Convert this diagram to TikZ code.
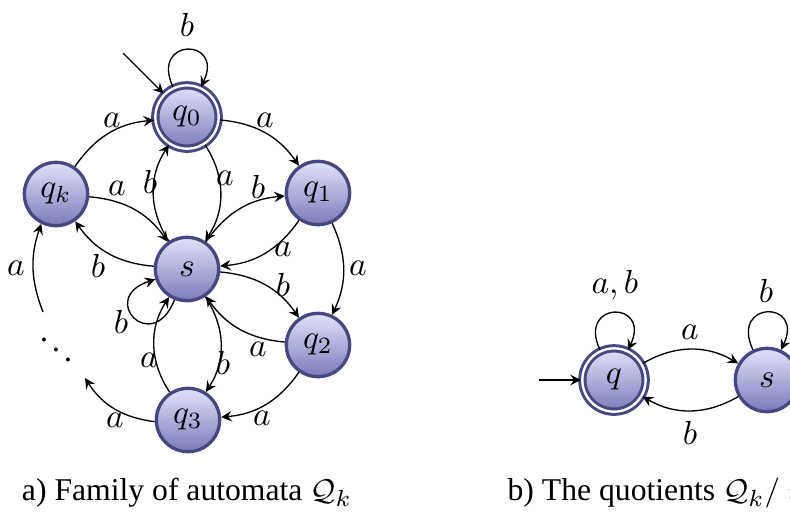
\documentclass[tikz,border=0pt]{standalone}
\usepackage{fontspec}
\setmainfont{Liberation Serif}
\usepackage{amssymb}
\usepackage{xcolor}
\usetikzlibrary{arrows}

\definecolor{stdraw}{RGB}{72,72,128}
\definecolor{sttop}{RGB}{226,226,250}
\definecolor{stbot}{RGB}{122,122,188}

\tikzset{
  st/.style={circle, draw=stdraw, line width=1pt, top color=sttop, bottom color=stbot, minimum size=19pt, inner sep=0pt},
  acc/.style={st, double=white, double distance=0.7pt, line width=0.9pt},
  tr/.style={->, >=stealth, line width=0.4pt},
  selfloop/.style={tr, loop, min distance=10pt, in=65, out=115, looseness=5},
  capt/.style={font=\fontsize{9.5}{11}\selectfont}
}

\begin{document}
\begin{tikzpicture}[x=0.3pt,y=0.3pt]
\useasboundingbox (0,-514) rectangle (790,0);

% states of Q_k
\node [acc] (q0) at (187,-117) {$q_0$};
\node [st] (q1) at (318,-193) {$q_1$};
\node [st] (q2) at (318,-345) {$q_2$};
\node [st] (q3) at (188,-420) {$q_3$};
\node [st] (qk) at (56,-194) {$q_k$};
\node [st] (s) at (187,-269) {$s$};
\node (dots) at (56,-340) {$\ddots$};
\coordinate (i0) at (123,-53);
\coordinate (d1) at (85,-378);
\coordinate (d2) at (43,-312);

% outer cycle
\draw [tr] (i0) -- (q0);
\draw [selfloop] (q0) to (q0);
\draw [tr] (q0) to [bend left=25] (q1);
\draw [tr] (q1) to [bend left=25] (q2);
\draw [tr] (q2) to [bend left=25] (q3);
\draw [tr] (q3) to [bend left=25] (d1);
\draw [tr] (d2) to [bend left=20] (qk);
\draw [tr] (qk) to [bend left=25] (q0);

% edges through s
\draw [tr] (s) to [bend left=33] (q0);
\draw [tr] (q0) to [bend left=33] (s);
\draw [tr] (s) to [bend left=25] (q1);
\draw [tr] (q1) to [bend left=25] (s);
\draw [tr] (s) to [bend left=25] (q2);
\draw [tr] (q2) to [bend left=25] (s);
\draw [tr] (s) to [bend left=33] (q3);
\draw [tr] (q3) to [bend left=33] (s);
\draw [tr] (qk) to [bend left=25] (s);
\draw [tr] (s) to [bend left=25] (qk);
\draw [tr] (s) to [out=248, in=198, looseness=5.5] (s);

% Text Nodes
\node (l0) at (187,-25) {$b$};
\node (l01) at (265,-120) {$a$};
\node (l12) at (358,-268) {$a$};
\node (l23) at (262,-418) {$a$};
\node (l3d) at (115,-420) {$a$};
\node (ldk) at (16,-268) {$a$};
\node (lk0) at (112,-120) {$a$};
\node (ls0) at (150,-182) {$b$};
\node (l0s) at (225,-178) {$a$};
\node (ls1) at (258,-187) {$b$};
\node (l1s) at (283,-249) {$a$};
\node (ls2) at (283,-285) {$b$};
\node (l2s) at (258,-349) {$a$};
\node (ls3) at (223,-363) {$b$};
\node (l3s) at (149,-360) {$a$};
\node (lks) at (117,-188) {$a$};
\node (lsk) at (98,-266) {$b$};
\node (lss) at (121,-322) {$b$};

% quotient automaton
\node [acc] (q) at (614,-380) {$q$};
\node [st] (sq) at (767,-380) {$s$};
\coordinate (iq) at (539,-380);
\draw [tr] (iq) -- (q);
\draw [selfloop] (q) to (q);
\draw [selfloop] (sq) to (sq);
\draw [tr] (q) to [bend left=30] (sq);
\draw [tr] (sq) to [bend left=30] (q);

% Text Nodes
\node (lq) at (615,-285) {$a,b$};
\node (lsq) at (766,-291) {$b$};
\node (lqs) at (690,-332) {$a$};
\node (lsqq) at (690,-433) {$b$};

% captions
\node [capt] (capa) at (187,-493) {a) Family of automata $\mathcal{Q}_k$};
\node [capt, anchor=west, inner sep=0pt] (capb) at (507,-493) {b) The quotients $\mathcal{Q}_k/\approx$};

\end{tikzpicture}
\end{document}
